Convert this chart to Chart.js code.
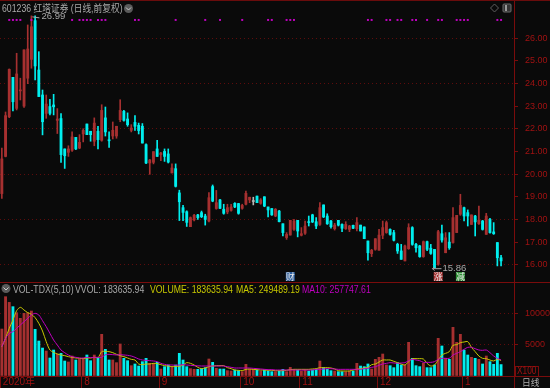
<!DOCTYPE html>
<html><head><meta charset="utf-8">
<script src="https://cdn.jsdelivr.net/npm/chart.js@4"></script>
<style>
html,body{margin:0;padding:0;background:#0a0a0a;overflow:hidden}
#wrap{position:relative;width:550px;height:388px;background:#0a0a0a;overflow:hidden;font-family:'Liberation Sans','Noto Sans CJK SC',sans-serif}
canvas{position:absolute;left:0}
.t{position:absolute;white-space:nowrap;font-size:10.5px;line-height:12px;color:#a9a9a9;transform:scaleX(.83);transform-origin:left center}
.icon{position:absolute}
</style></head><body>
<div id="wrap">
<canvas id="price" width="550" height="282" style="top:0"></canvas>
<canvas id="vol" width="550" height="106" style="top:282px"></canvas>
<div class="t" style="left:2px;top:2px">601236 红塔证券 (日线,前复权)</div>
<svg class="icon" style="left:123px;top:3px" width="11" height="11"><circle cx="5.5" cy="5.5" r="4.5" fill="#5a5a5a"/><path d="M3 4.5 L5.5 7 L8 4.5" stroke="#ccc" fill="none"/></svg>
<svg class="icon" style="left:489px;top:3px" width="24" height="11"><path d="M5.5 1 L9.5 5 L5.5 9 L1.5 5 Z" stroke="#5f5f5f" fill="none"/><rect x="14" y="1" width="8" height="8" rx="1" fill="#333" stroke="#6a6a6a"/><rect x="16" y="2" width="2" height="6" fill="#999"/></svg>
<svg class="icon" style="left:1px;top:283px" width="11" height="11"><circle cx="5" cy="5.5" r="4.5" fill="#5a5a5a"/><path d="M2.5 4.5 L5 7 L7.5 4.5" stroke="#ccc" fill="none"/></svg>
<div class="t" style="left:13px;top:283px">VOL-TDX(5,10)</div>
<div class="t" style="left:75px;top:283px">VVOL: 183635.94</div>
<div class="t" style="left:150px;top:283px;color:#c8c800">VOLUME: 183635.94</div>
<div class="t" style="left:236px;top:283px;color:#c8c800">MA5: 249489.19</div>
<div class="t" style="left:302px;top:283px;color:#c000c0">MA10: 257747.61</div>
<div style="position:absolute;left:515px;top:366px;width:22px;height:9px;border:1px solid #7a0c0c"></div>
<div class="t" style="left:517px;top:365px;color:#a01212;font-size:10px">X100</div>
<div class="t" style="left:522px;top:377px;font-size:9.5px;color:#b0b0b0;transform:scaleX(.92)">日线</div>
</div>
<script>
const monthIndex=[0,22,43,65,81,102,125];
const monthLabels=['2020年','8','9','10','11','12','1'];
const slotCount=139;
const priceTicks=[16,17,18,19,20,21,22,23,24,25,26];
const openPrices=[19.15,20.79,22.54,24.28,22.91,23.68,23.01,24.24,25.07,26.78,24.6,23.5,22.69,22.99,23.06,22.38,22.46,21.12,20.97,21.06,21.63,21.16,21.78,22.22,21.9,21.46,21.9,21.5,22.49,21.5,21.69,21.69,22.41,22.78,22.44,21.94,22.29,22.16,22.12,21.31,20.5,20.53,21.12,20.87,21.01,20.9,20.06,20.25,19.18,18.53,
18.35,17.69,17.99,18.21,18.31,18.16,17.94,19.46,18.49,18.87,18.46,18.34,18.41,18.72,18.71,18.5,18.68,18.87,18.8,19.04,18.72,19.01,18.56,18.49,18.16,18.38,17.82,17.21,17.32,17.57,17.97,17.31,17.4,17.9,18.21,17.91,17.79,18.65,18.16,17.94,17.6,17.97,17.79,17.6,17.57,17.75,17.6,17.76,17.68,17.06,
16.5,16.69,16.65,17.31,17.43,17.57,17.43,16.91,16.62,16.18,16.72,17.65,16.91,16.84,16.37,17.03,16.74,16.69,16.03,17.38,16.54,17.01,16.99,17.43,18.24,18.53,18.31,17.79,18.16,17.82,17.94,17.35,18.01,17.46,16.99,16.32];
const closePrices=[20.68,22.59,24.63,23.2,24.43,23.72,25.49,25.53,26.51,24.78,23.43,22.32,23.1,22.69,22.98,22.44,20.87,20.82,21.12,21.65,21.12,21.41,21.94,21.75,21.75,22.26,21.53,22.82,21.87,21.48,21.94,22.12,22.82,22.38,22.19,22.04,22.12,21.93,21.38,20.5,20.63,21,20.79,20.94,20.79,20.54,20.28,19.47,18.79,18.32,
17.88,18.09,18.19,18.09,18.13,18.01,18.97,18.82,18.75,18.5,18.28,18.53,18.56,18.56,18.28,18.63,19.16,18.99,18.8,18.75,18.87,18.6,18.43,18.21,18.46,17.91,17.43,17.35,17.97,17.94,17.5,17.38,17.72,17.87,17.9,17.72,18.53,18.12,17.82,17.69,17.76,17.76,17.62,17.79,17.72,17.62,17.87,17.5,17.16,16.54,
16.65,17.16,17.32,17.65,17.87,17.35,17.09,16.62,16.25,16.84,17.65,16.91,16.76,16.37,17.03,16.69,16.51,15.88,17.47,17.1,17.2,16.76,18.09,18.19,18.63,18.16,18.16,18.21,17.9,17.97,17.57,18.16,17.43,17.38,16.32,16.18];
const highPrices=[21.16,22.75,24.65,24.28,25.34,24.24,25.49,26.59,26.99,26.99,25.41,23.72,23.5,23.31,23.53,22.9,22.68,21.12,21.26,21.87,21.63,21.75,22.01,22.22,21.9,22.49,22.12,23.07,22.97,21.87,22.31,22.12,23.29,22.82,22.71,22.19,22.59,22.26,22.24,21.35,20.66,21,21.5,20.97,21.12,21.12,20.46,20.46,19.3,18.63,
18.39,18.12,18.24,18.24,18.38,18.24,19.19,19.53,19.29,18.9,18.68,18.68,18.68,18.75,18.72,18.68,19.26,18.99,18.99,19.04,18.93,19.01,18.56,18.49,18.49,18.41,17.82,17.43,17.97,18.01,17.97,17.65,17.94,18.16,18.24,18.09,18.75,18.65,18.26,17.97,17.84,17.97,17.82,17.91,17.75,17.76,18.09,17.76,17.68,17.06,
16.69,17.16,17.57,17.94,17.94,17.6,17.53,16.96,16.91,16.88,17.82,17.69,16.96,16.87,17.06,17.06,16.91,16.69,17.53,17.76,17.43,17.43,18.53,18.19,19.12,18.56,18.43,18.21,18.19,18.6,17.97,18.28,18.06,17.87,16.99,16.43];
const lowPrices=[18.94,20.77,22.5,22.8,22.84,23.28,22.95,24,24.68,24.16,23.43,21.74,22.47,22.62,22.62,21.8,20.53,20.26,20.79,21.01,21.09,21.13,21.43,21.75,21.46,21.26,21.12,21.46,21.69,21.19,21.56,21.59,22.32,22.34,22.12,21.87,21.94,21.78,21.38,20.47,20,20.46,20.79,20.6,20.57,20.5,20.06,19.44,17.96,17.96,
17.7,17.69,17.94,18.01,18.09,17.76,17.9,18.79,18.46,18.49,18.24,18.26,18.38,18.53,18.24,18.46,18.65,18.75,18.65,18.75,18.68,18.57,18.12,18.19,18.13,17.9,17.28,17.13,17.32,17.53,17.24,17.28,17.35,17.72,17.87,17.6,17.75,18.09,17.79,17.62,17.54,17.72,17.47,17.57,17.47,17.6,17.5,17.5,17.16,16.21,
16.37,16.65,16.65,17.16,17.4,17.32,17.06,16.51,16.25,16.18,16.69,16.87,16.57,16.34,16.34,16.63,16.47,15.86,15.99,17.01,16.54,16.69,16.96,17.43,18.19,17.94,17.72,17.79,17.28,17.79,17.54,17.35,17.4,17.35,15.96,15.96];
const volume=[7540,12730,11820,11130,10160,9260,10060,10160,10430,7490,5620,4490,4010,2890,4170,3530,3640,2410,2250,3210,2570,2680,2840,3370,2460,3370,3000,6690,4280,2570,2570,2140,5140,2840,2460,1660,1930,1600,2300,2840,2030,2030,2190,1120,1500,1770,1390,1770,3640,2570,
1500,1180,1070,1070,1180,1340,2730,2190,1230,1120,1120,860,800,960,860,700,1870,1120,1070,960,800,960,800,700,700,800,1070,700,1390,1070,960,800,960,800,960,1070,2400,1340,1070,860,800,700,700,700,800,800,2030,1600,1500,1930,
1120,2680,3000,3530,1770,1660,1340,2140,1770,1770,5400,2840,1660,1500,2030,1340,1340,1770,6050,4820,2840,2680,7810,5400,6690,4170,3370,3000,2840,2680,1930,3210,2300,1870,3640,1836];
const ma5=[4708,6045,7650,8988,10486,11021,10593,10165,9898,9363,8453,7223,5510,4173,3799,3531,3371,3264,3103,2996,2889,2836,2782,2889,2889,2996,2943,3906,3959,3906,3745,3478,3264,3103,2889,2675,2568,1926,1819,1926,1926,2033,1980,1819,1659,1605,1498,1552,1552,1766,
2140,2033,1766,1391,1177,1284,1498,1605,1659,1659,1659,1338,1177,963,910,856,1070,1124,1070,1017,963,963,910,910,856,856,856,910,1017,1070,1070,1070,1070,1070,1124,1177,1338,1338,1338,1284,1124,856,802,802,802,963,1070,1177,1284,1391,
1819,1926,2247,2568,2568,2568,2354,2140,1926,1766,2301,2782,2782,2782,2729,2033,1605,1766,2568,3371,3638,3906,4922,5029,5350,5457,5511,4601,3906,3210,2836,2782,2568,2408,2675,2495];
const ma10=[4708,6045,6848,7116,7650,8186,8720,9256,9790,10058,9790,8881,7918,6848,5778,4976,4173,3745,3371,3103,2996,2889,2889,2996,2943,2996,2996,2996,3424,3478,3424,3371,3424,3371,3317,3210,2996,2729,2568,2515,2461,2408,2301,2033,1873,1766,1766,1712,1766,1819,
1766,1712,1659,1632,1605,1605,1605,1605,1605,1605,1605,1498,1391,1284,1284,1284,1284,1284,1230,1177,1124,1070,1017,1017,963,963,963,963,963,963,963,963,963,963,963,1070,1070,1124,1177,1177,1124,1070,1070,1070,1070,1070,1070,1070,1177,1230,
1391,1498,1712,1926,2033,2140,2087,2033,2087,2140,2461,2675,2568,2461,2194,2194,2194,2301,2675,2836,2836,2836,3371,3638,3906,4280,4601,4601,4387,4173,4120,4173,3745,3210,2836,2577];
const signalIndex=[2,3,4,5,8,19,21,22,23,24,26,27,28,36,37,47,55,59,65,72,73,77,78,79,99,100,104,105,107,108,111,112,115,118,119,123,124,125,126,134,135];
const signalLevel=26.81;
const highNote={index:8,value:26.99,text:'26.99'};
const lowNote={index:117,value:15.86,text:'15.86'};
const badges=[{index:78,text:'财',color:'#2a5c9c'},{index:118,text:'涨',color:'#a83030'},{index:124,text:'减',color:'#2f8f35'}];

const FONT="'Liberation Sans','Noto Sans CJK SC',sans-serif";
const RED='#a63030',CYAN='#00eeee',GREY='#b5b5b5',AXIS='#7a0c0c',LABEL='#a01212',DOT='#5e0c0c';
const categories=Array.from({length:slotCount},(_,i)=>{const k=monthIndex.indexOf(i);return k>=0?monthLabels[k]:'';});
const candleColor=i=>closePrices[i]>openPrices[i]?RED:closePrices[i]<openPrices[i]?CYAN:GREY;
const colors=openPrices.map((_,i)=>candleColor(i));
const signals=categories.map((_,i)=>signalIndex.includes(i)?signalLevel:null);

const pricePlugin={id:'priceDecor',afterDraw(c){
  const {ctx,chartArea:a,scales:{x,y}}=c;
  ctx.save();
  ctx.strokeStyle=AXIS;ctx.lineWidth=1;
  ctx.beginPath();ctx.moveTo(a.right+.5,0);ctx.lineTo(a.right+.5,282);ctx.stroke();
  ctx.strokeStyle='#6a0c0c';ctx.beginPath();ctx.moveTo(0,.5);ctx.lineTo(550,.5);ctx.stroke();
  ctx.font='9.5px '+FONT;ctx.textBaseline='middle';ctx.textAlign='left';
  ctx.strokeStyle='#a9a9a9';ctx.fillStyle='#a9a9a9';
  let hx=x.getPixelForValue(highNote.index),hy=y.getPixelForValue(highNote.value);
  ctx.beginPath();ctx.moveTo(hx+1,hy+1);ctx.lineTo(hx+8,hy+2);ctx.stroke();
  ctx.fillText(highNote.text,hx+10,hy+1);
  let lx=x.getPixelForValue(lowNote.index),ly=y.getPixelForValue(lowNote.value);
  ctx.beginPath();ctx.moveTo(lx-2,ly+.5);ctx.lineTo(lx+7,ly+.5);ctx.moveTo(lx-2,ly+.5);ctx.lineTo(lx,ly-1.5);ctx.moveTo(lx-2,ly+.5);ctx.lineTo(lx,ly+2.5);ctx.stroke();
  ctx.fillText(lowNote.text,lx+8,ly+.5);
  ctx.textAlign='center';ctx.font="9px 'Noto Sans CJK SC',sans-serif";
  badges.forEach(b=>{const bx=x.getPixelForValue(b.index);
    ctx.fillStyle=b.color;ctx.fillRect(bx-4.5,272,9,9);
    ctx.fillStyle='#e8e8e8';ctx.fillText(b.text,bx,276.5);});
  ctx.restore();
}};
const volPlugin={id:'volDecor',afterDraw(c){
  const {ctx,chartArea:a}=c;
  ctx.save();ctx.strokeStyle=AXIS;ctx.lineWidth=1;
  ctx.beginPath();ctx.moveTo(0,.5);ctx.lineTo(550,.5);
  ctx.moveTo(0,a.bottom+.5);ctx.lineTo(550,a.bottom+.5);
  ctx.moveTo(a.right+.5,0);ctx.lineTo(a.right+.5,106);ctx.stroke();
  ctx.restore();
}};
const rightAxis=(extra)=>Object.assign({position:'right',afterFit(s){s.width=36;s.paddingTop=0;s.paddingBottom=0;}},extra);

new Chart(document.getElementById('price'),{
  type:'bar',
  data:{labels:categories,datasets:[
    {label:'wick',data:lowPrices.map((v,i)=>[v,highPrices[i]]),backgroundColor:colors,barThickness:1,grouped:false,order:3,borderSkipped:false},
    {label:'body',data:openPrices.map((v,i)=>[v,closePrices[i]]),backgroundColor:colors,barThickness:2.2,grouped:false,order:2,minBarLength:1,borderSkipped:false},
    {type:'line',label:'signal',data:signals,showLine:false,pointStyle:'rect',pointRadius:1.4,pointBackgroundColor:'#c000c0',pointBorderWidth:0,order:1}
  ]},
  options:{responsive:false,animation:false,layout:{padding:0,autoPadding:false},
    plugins:{legend:{display:false},tooltip:{enabled:false}},
    scales:{
      x:{display:false,offset:true,grid:{display:false}},
      y:rightAxis({min:15.25,max:27.69,
        afterBuildTicks(s){s.ticks=priceTicks.map(value=>({value}));},
        border:{display:false,dash:[1,3]},
        grid:{color:ctx=>ctx.tick&&ctx.tick.value%2===0?DOT:'transparent',tickColor:AXIS,tickLength:4,tickBorderDash:[]},
        ticks:{color:LABEL,padding:7,font:{family:FONT,size:9},callback:v=>Number(v).toFixed(2)}})
    }},
  plugins:[pricePlugin]
});

new Chart(document.getElementById('vol'),{
  type:'bar',
  data:{labels:categories,datasets:[
    {label:'volume',data:volume,backgroundColor:volume.map((_,i)=>closePrices[i]>=openPrices[i]?RED:CYAN),barThickness:2.2,grouped:false,order:3},
    {type:'line',label:'MA5',data:ma5,borderColor:'#c8c800',borderWidth:1,pointRadius:0,tension:.3,order:2},
    {type:'line',label:'MA10',data:ma10,borderColor:'#c000c0',borderWidth:1,pointRadius:0,tension:.3,order:1}
  ]},
  options:{responsive:false,animation:false,layout:{padding:0,autoPadding:false},
    plugins:{legend:{display:false},tooltip:{enabled:false}},
    scales:{
      x:{offset:true,afterFit(s){s.height=12;s.paddingLeft=0;s.paddingRight=0;},
        border:{display:false},
        grid:{offset:true,drawOnChartArea:false,tickLength:12,tickColor:c=>monthIndex.includes(c.index)?AXIS:'transparent'},
        ticks:{autoSkip:false,maxRotation:0,minRotation:0,padding:-12,align:'start',labelOffset:1,color:LABEL,font:{family:FONT,size:10},callback(v,i){return categories[i];}}},
      y:rightAxis({min:0,max:15088,
        afterBuildTicks(s){s.ticks=[0,5000,10000].map(value=>({value}));},
        border:{display:false,dash:[1,3]},
        grid:{color:ctx=>ctx.tick&&ctx.tick.value>0?DOT:'transparent',tickColor:c=>c.tick&&c.tick.value>0?AXIS:'transparent',tickLength:4,tickBorderDash:[]},
        ticks:{color:LABEL,padding:7,font:{family:FONT,size:9},callback:v=>v>0?String(v):''}})
    }},
  plugins:[volPlugin]
});
</script>
</body></html>
